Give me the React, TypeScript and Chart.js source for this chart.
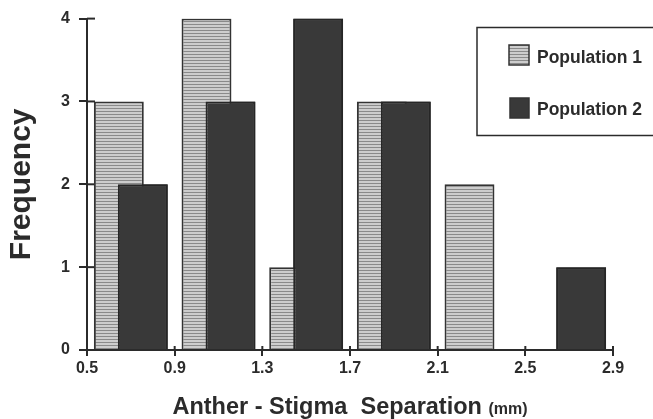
import { useEffect, useRef } from 'react';
import { Chart, registerables } from 'chart.js';

Chart.register(...registerables);

const binCenters = [0.7, 1.1, 1.5, 1.9, 2.3, 2.7];
const population1 = [3, 4, 1, 3, 2, 0];
const population2 = [2, 3, 4, 3, 0, 1];
const seriesLabels = ['Population 1', 'Population 2'];
const xTickValues = [0.5, 0.9, 1.3, 1.7, 2.1, 2.5, 2.9];
const yTickValues = [0, 1, 2, 3, 4];
const yTitle = 'Frequency';
const xTitleMain = 'Anther - Stigma  Separation';
const xTitleUnit = '(mm)';

const FONT = '"Liberation Sans", Arial, sans-serif';
const INK = '#2b2b2b';

function makeStripePattern(ctx: CanvasRenderingContext2D) {
  const c = document.createElement('canvas');
  c.width = 4;
  c.height = 3;
  const p = c.getContext('2d')!;
  p.fillStyle = '#cdcdcd';
  p.fillRect(0, 0, 4, 3);
  p.fillStyle = '#8a8a8a';
  p.fillRect(0, 0, 4, 1);
  return ctx.createPattern(c, 'repeat')!;
}

export default function App() {
  const ref = useRef<HTMLCanvasElement>(null);

  useEffect(() => {
    document.body.style.margin = '0';
    const canvas = ref.current!;
    const ctx = canvas.getContext('2d')!;
    const stripes = makeStripePattern(ctx);

    const innerTicks = {
      id: 'innerTicks',
      beforeDatasetsDraw(chart: any) {
        const c = chart.ctx;
        const xs = chart.scales.x;
        const ys = chart.scales.y;
        c.save();
        c.strokeStyle = INK;
        c.lineWidth = 2;
        ys.ticks.forEach((t: any) => {
          const y = ys.getPixelForValue(t.value);
          c.beginPath();
          c.moveTo(xs.left, y);
          c.lineTo(xs.left + 8, y);
          c.stroke();
        });
        xs.ticks.forEach((t: any) => {
          const x = xs.getPixelForValue(t.value);
          c.beginPath();
          c.moveTo(x, ys.bottom);
          c.lineTo(x, ys.bottom - 4);
          c.stroke();
        });
        c.restore();
      },
      afterDatasetsDraw(chart: any) {
        // Population 2 lies over Population 1 where they overlap
        chart.getDatasetMeta(1).controller.draw();
      },
    };

    const decorations = {
      id: 'decorations',
      afterDraw(chart: any) {
        const c = chart.ctx;
        const area = chart.chartArea;
        c.save();
        const mainFont = `bold 23.5px ${FONT}`;
        const unitFont = `bold 16px ${FONT}`;
        c.font = mainFont;
        const w1 = c.measureText(xTitleMain + ' ').width;
        c.font = unitFont;
        const w2 = c.measureText(xTitleUnit).width;
        const cx = (area.left + area.right) / 2;
        const startX = cx - (w1 + w2) / 2;
        c.fillStyle = INK;
        c.textBaseline = 'alphabetic';
        c.textAlign = 'left';
        c.font = mainFont;
        c.fillText(xTitleMain + ' ', startX, 414);
        c.font = unitFont;
        c.fillText(xTitleUnit, startX + w1, 414);

        c.strokeStyle = INK;
        c.lineWidth = 1.5;
        c.strokeRect(477, 27.5, 220, 108);
        const ds = chart.data.datasets;
        const rows = [
          { y: 45, h: 20, x: 509, w: 20, baseline: 63 },
          { y: 98, h: 20, x: 510, w: 19, baseline: 115 },
        ];
        rows.forEach((r, i) => {
          c.fillStyle = ds[i].backgroundColor;
          c.fillRect(r.x, r.y, r.w, r.h);
          c.strokeStyle = '#333';
          c.lineWidth = 1.5;
          c.strokeRect(r.x, r.y, r.w, r.h);
          c.fillStyle = INK;
          c.font = `bold 17.5px ${FONT}`;
          c.fillText(ds[i].label, 537, r.baseline);
        });
        c.restore();
      },
    };

    const chart = new Chart(canvas, {
      type: 'bar',
      data: {
        datasets: [
          {
            label: seriesLabels[0],
            data: binCenters.map((x, i) => ({ x, y: population1[i] })),
            backgroundColor: stripes as any,
            borderColor: '#333',
            borderWidth: 2,
            borderSkipped: 'start',
          },
          {
            label: seriesLabels[1],
            data: binCenters.map((x, i) => ({ x, y: population2[i] })),
            backgroundColor: '#393939',
            borderColor: '#262626',
            borderWidth: 2,
            borderSkipped: 'start',
          },
        ],
      },
      options: {
        responsive: false,
        animation: false,
        categoryPercentage: 0.5475,
        barPercentage: 2.08,
        layout: { padding: { top: 18, right: 40, bottom: 0, left: 0 } },
        plugins: {
          legend: { display: false },
          tooltip: { enabled: false },
        },
        scales: {
          x: {
            type: 'linear',
            offset: false,
            min: 0.5,
            max: 2.9,
            afterBuildTicks: (scale: any) => {
              scale.ticks = xTickValues.map((v) => ({ value: v }));
            },
            afterFit: (scale: any) => {
              scale.height = 69;
            },
            ticks: {
              callback: (v: any) => Number(v).toFixed(1),
              font: { family: FONT, size: 16, weight: 'bold' },
              color: INK,
              padding: 3,
              maxRotation: 0,
              autoSkip: false,
            },
            grid: {
              offset: false,
              drawOnChartArea: false,
              drawTicks: true,
              tickLength: 6,
              color: INK,
              lineWidth: 2,
            },
            border: { display: true, color: INK, width: 2 },
          },
          y: {
            min: 0,
            max: 4,
            afterBuildTicks: (scale: any) => {
              scale.ticks = yTickValues.map((v) => ({ value: v }));
            },
            afterFit: (scale: any) => {
              scale.width = 87;
            },
            ticks: {
              font: { family: FONT, size: 16, weight: 'bold' },
              color: INK,
              padding: 9,
            },
            grid: {
              drawOnChartArea: false,
              drawTicks: true,
              tickLength: 8,
              color: INK,
              lineWidth: 2,
            },
            border: { display: true, color: INK, width: 2 },
            title: {
              display: true,
              text: yTitle,
              font: { family: FONT, size: 30, weight: 'bold' },
              color: INK,
              padding: { top: 4, bottom: 0 },
            },
          },
        },
      },
      plugins: [innerTicks, decorations],
    });

    return () => chart.destroy();
  }, []);

  return (
    <div style={{ width: 653, height: 419, background: '#fff' }}>
      <canvas ref={ref} width={653} height={419} />
    </div>
  );
}
